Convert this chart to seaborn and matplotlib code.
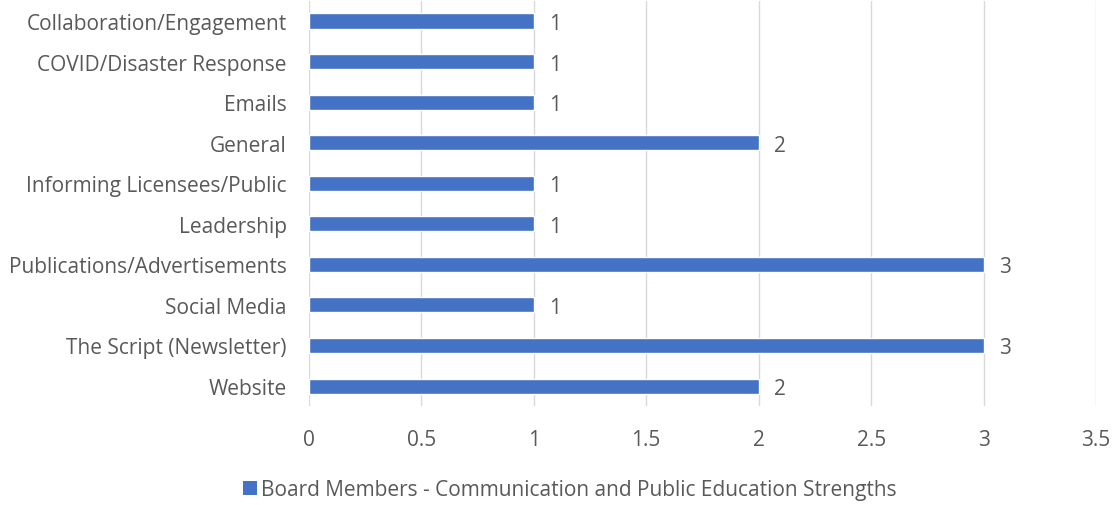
import matplotlib
matplotlib.use("Agg")
import matplotlib.pyplot as plt
import seaborn as sns
import pandas as pd
from matplotlib.patches import Patch

categories = ["Collaboration/Engagement", "COVID/Disaster Response", "Emails", "General",
              "Informing Licensees/Public", "Leadership", "Publications/Advertisements",
              "Social Media", "The Script (Newsletter)", "Website"]
values = [1, 1, 1, 2, 1, 1, 3, 1, 3, 2]
series_name = "Board Members - Communication and Public Education Strengths"
xticks = [0, 0.5, 1, 1.5, 2, 2.5, 3, 3.5]
xtick_labels = ["0", "0.5", "1", "1.5", "2", "2.5", "3", "3.5"]

sns.set_theme(style="white")
plt.rcParams['font.family'] = ['Open Sans', 'DejaVu Sans']
color = "#4472C4"
text_color = "#595959"
fs = 15

df = pd.DataFrame({"cat": categories, "val": values})
fig = plt.figure(figsize=(11.15, 5.06), dpi=100)
ax = fig.add_axes([0.277, 0.195, 0.706, 0.8016])
sns.barplot(data=df, y="cat", x="val", color=color, width=0.37, ax=ax, saturation=1)
ax.set_xlim(0, 3.5)
ax.set_xticks(xticks)
ax.set_xticklabels(xtick_labels)
ax.grid(axis="x", color="#D9D9D9", linewidth=1)
ax.set_axisbelow(True)
for s in ax.spines.values():
    s.set_visible(False)
ax.set_xlabel("")
ax.set_ylabel("")
ax.tick_params(axis="both", length=0, labelsize=fs, colors=text_color)
ax.tick_params(axis="x", pad=16)
ax.tick_params(axis="y", pad=16)
for c in ax.containers:
    labs = ax.bar_label(c, labels=[str(v) for v in values], padding=11, fontsize=fs, color=text_color)
    for t in labs:
        t.set_verticalalignment("center_baseline")
handle = Patch(facecolor=color, edgecolor="none")
fig.legend([handle], [series_name], loc="center", bbox_to_anchor=(0.511, 0.03), frameon=False,
           fontsize=fs, handlelength=0.7, handleheight=0.7, handletextpad=0.2, labelcolor=text_color)
fig.savefig("out.png", dpi=100)
